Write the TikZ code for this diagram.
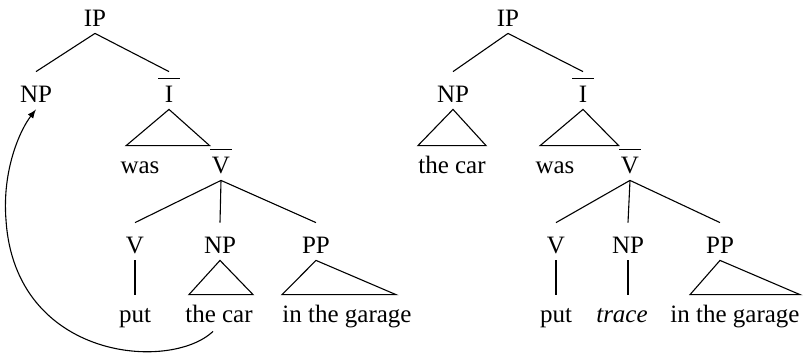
\documentclass[tikz,border=0pt]{standalone}
\usepackage{fontspec}
\setmainfont{Liberation Serif}
\usetikzlibrary{arrows}

\newcommand{\barcat}[1]{\ooalign{\hfil#1\hfil\cr\hfil\rule[11.5pt]{11pt}{0.5pt}\hfil\cr}}

\begin{document}
\begin{tikzpicture}[
  x=0.5pt,y=-0.5pt,
  every node/.style={font=\fontsize{12.5}{15}\selectfont},
  cat/.style={anchor=base,inner xsep=0pt,inner ysep=3.5pt,text height=11.5pt,text depth=0pt},
  word/.style={anchor=base,inner xsep=0pt,inner ysep=1.5pt,text height=12pt,text depth=3pt},
  branch/.style={line width=0.55pt},
  movement/.style={line width=0.55pt,-latex}
]
  \useasboundingbox (0,0) rectangle (804,361);

  % left tree: before movement
  \node[cat] (ipL) at (95,26) {IP};
  \node[cat] (npL) at (36,102) {NP};
  \node[cat] (ibarL) at (169,102) {\barcat{I}};
  \node[word] (wasL) at (140,173) {was};
  \node[cat] (vbarL) at (221,173) {\barcat{V}};
  \node[cat] (vL) at (135,253) {V};
  \node[cat] (objL) at (220,253) {NP};
  \node[cat] (ppL) at (316,253) {PP};
  \node[word] (putL) at (135,322) {put};
  \node[word] (carL) at (219,322) {the car};
  \node[word] (garL) at (347,322) {in the garage};

  \draw[branch] (ipL.south) -- (npL.north);
  \draw[branch] (ipL.south) -- (ibarL.north);
  \draw[branch] (ibarL.south) -- ([xshift=3pt]wasL.north west) -- (vbarL.north west |- wasL.north) -- cycle;
  \draw[branch] (vbarL.south) -- (vL.north);
  \draw[branch] (vbarL.south) -- (objL.north);
  \draw[branch] (vbarL.south) -- (ppL.north);
  \draw[branch] (vL.south) -- (putL.north);
  \draw[branch] (objL.south) -- ([xshift=2pt]carL.north west) -- (carL.north east) -- cycle;
  \draw[branch] (ppL.south) -- (garL.north west) -- ([xshift=-8pt]garL.north east) -- cycle;

  \coordinate (bendL) at (6,220);
  \draw[movement] ([xshift=-3pt]carL.south) .. controls (170,372) and (15,360) .. (bendL)
    .. controls (2,170) and (20,130) .. (npL.south);

  % right tree: after movement
  \node[cat] (ipR) at (508,26) {IP};
  \node[cat] (npR) at (453,102) {NP};
  \node[cat] (ibarR) at (583,102) {\barcat{I}};
  \node[word] (carR) at (452,173) {the car};
  \node[word] (wasR) at (555,173) {was};
  \node[cat] (vbarR) at (630,173) {\barcat{V}};
  \node[cat] (vR) at (556,253) {V};
  \node[cat] (objR) at (628,253) {NP};
  \node[cat] (ppR) at (720,253) {PP};
  \node[word] (putR) at (556,322) {put};
  \node[word] (traceR) at (622,322) {\textit{trace}};
  \node[word] (garR) at (735,322) {in the garage};

  \draw[branch] (ipR.south) -- (npR.north);
  \draw[branch] (ipR.south) -- (ibarR.north);
  \draw[branch] (npR.south) -- (carR.north west) -- (carR.north east) -- cycle;
  \draw[branch] (ibarR.south) -- ([xshift=2.5pt]wasR.north west) -- (vbarR.north west |- wasR.north) -- cycle;
  \draw[branch] (vbarR.south) -- (vR.north);
  \draw[branch] (vbarR.south) -- (objR.north);
  \draw[branch] (vbarR.south) -- (ppR.north);
  \draw[branch] (vR.south) -- (putR.north);
  \draw[branch] (objR.south) -- (objR.south |- traceR.north);
  \draw[branch] (ppR.south) -- ([xshift=10pt]garR.north west) -- (garR.north east) -- cycle;
\end{tikzpicture}
\end{document}
